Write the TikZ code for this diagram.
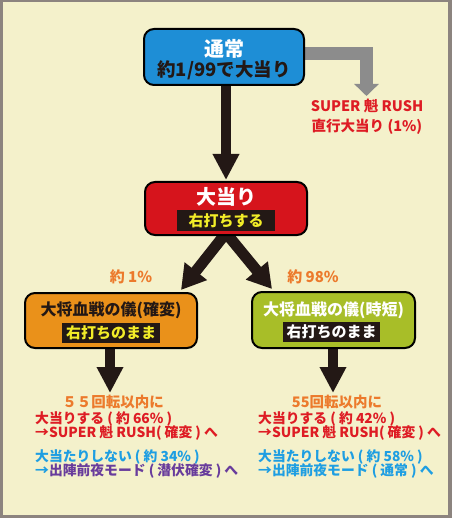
\documentclass[tikz,border=0pt]{standalone}
\usepackage{fontspec}
\setmainfont{Noto Sans CJK JP}
\usetikzlibrary{arrows.meta}
\pgfdeclarelayer{back}
\pgfdeclarelayer{arr}
\pgfsetlayers{back,arr,main}
\definecolor{bgc}{RGB}{244,241,203}
\definecolor{framec}{RGB}{140,132,127}
\definecolor{boxblue}{RGB}{30,142,214}
\definecolor{boxred}{RGB}{214,20,28}
\definecolor{boxorange}{RGB}{234,145,26}
\definecolor{boxgreen}{RGB}{168,190,40}
\definecolor{arrblack}{RGB}{35,24,21}
\definecolor{arrgray}{RGB}{140,140,140}
\definecolor{txtorange}{RGB}{236,122,44}
\definecolor{txtred}{RGB}{222,28,36}
\definecolor{txtblue}{RGB}{30,158,226}
\definecolor{txtpurple}{RGB}{104,60,156}
\definecolor{txtyellow}{RGB}{242,236,40}
\definecolor{txtdark}{RGB}{35,24,21}
\tikzset{
  flowbox/.style={draw=black, line width=2pt, rounded corners=10pt, inner sep=0pt},
  tagbox/.style={fill=arrblack, inner sep=0pt, font=\bfseries\fontsize{15}{15}\selectfont},
  bigarrow/.style={draw=arrblack, line width=10pt, -{Triangle[length=26pt,width=25pt]}},
  diagarrow/.style={draw=arrblack, line width=11pt, -{Triangle[length=24pt,width=27pt]}},
  grayarrow/.style={draw=arrgray, line width=13pt, line join=miter, -{Triangle[length=12pt,width=24pt]}},
  btxt/.style={inner sep=0pt, anchor=west, font=\bfseries\fontsize{13.8}{14}\selectfont},
  plain/.style={inner sep=0pt, font=\bfseries\fontsize{15}{15}\selectfont}
}
\begin{document}
\begin{tikzpicture}[x=1pt,y=-1pt]
\useasboundingbox (0,0) rectangle (452,518);
\begin{pgfonlayer}{back}
  \fill[framec] (0,0) rectangle (452,518);
  \fill[bgc] (2.5,2.5) rectangle (448,514.5);
\end{pgfonlayer}

% boxes
\node[flowbox, fill=boxblue, minimum width=160pt, minimum height=56pt] (tsu) at (224,57) {};
\node[inner sep=0pt, text=white, font=\bfseries\fontsize{20}{20}\selectfont] (tsuT) at (224,48.5) {通常};
\node[inner sep=0pt, text=txtdark, font=\bfseries\fontsize{18.5}{18.5}\selectfont] (tsuS) at (224,70.5) {約1/99で大当り};

\node[flowbox, fill=boxred, minimum width=162pt, minimum height=53pt] (oa) at (226,208.5) {};
\node[inner sep=0pt, text=white, font=\bfseries\fontsize{20}{20}\selectfont] (oaT) at (226,197) {大当り};
\node[tagbox, text=txtyellow, minimum width=98pt, minimum height=21pt] (oaS) at (226,220.5) {右打ちする};

\node[flowbox, fill=boxorange, minimum width=172pt, minimum height=55pt] (lb) at (111,320.5) {};
\node[inner sep=0pt, text=txtdark, font=\bfseries\fontsize{16}{16}\selectfont] (lbT) at (111,310.5) {大将血戦の儀(確変)};
\node[tagbox, text=txtyellow, minimum width=98pt, minimum height=20pt] (lbS) at (111,333) {右打ちのまま};

\node[flowbox, fill=boxgreen, minimum width=163pt, minimum height=56pt] (rb) at (333.5,320) {};
\node[inner sep=0pt, text=white, font=\bfseries\fontsize{16}{16}\selectfont] (rbT) at (333.5,310.5) {大将血戦の儀(時短)};
\node[tagbox, text=white, minimum width=97pt, minimum height=20pt] (rbS) at (331.5,332) {右打ちのまま};

% side label
\node[inner sep=0pt, text=txtred, align=center, font=\bfseries\fontsize{14.5}{20}\selectfont] (sr) at (367,117) {SUPER 魁 RUSH\\直行大当り (1\%)};
\coordinate (gtip) at (366.5,96);

% percent labels
\node[plain, text=txtorange] (p1) at (131,277) {約 1\%};
\node[plain, text=txtorange] (p98) at (313,277) {約 98\%};

% bottom texts left
\node[inner sep=0pt, text=txtorange, font=\bfseries\fontsize{14.5}{14.5}\selectfont] (l0) at (113,402) {５５回転以内に};
\node[btxt, text=txtred] (l1) at (35,419) {大当りする ( 約 66\% )};
\node[btxt, text=txtred] (l2) at (35,433) {→SUPER 魁 RUSH( 確変 ) へ};
\node[btxt, text=txtblue] (l3) at (35,457) {大当たりしない ( 約 34\% )};
\node[btxt, text=txtpurple] (l4) at (35,471) {{\color{txtblue}→}出陣前夜モード ( 潜伏確変 ) へ};
\coordinate (ltip) at (110,393);

% bottom texts right
\node[inner sep=0pt, text=txtorange, font=\bfseries\fontsize{14.5}{14.5}\selectfont] (r0) at (337,402) {55回転以内に};
\node[btxt, text=txtred] (r1) at (258,419) {大当りする ( 約 42\% )};
\node[btxt, text=txtred] (r2) at (258,433) {→SUPER 魁 RUSH( 確変 ) へ};
\node[btxt, text=txtblue] (r3) at (258,457) {大当たりしない ( 約 58\% )};
\node[btxt, text=txtblue] (r4) at (258,471) {→出陣前夜モード ( 通常 ) へ};
\coordinate (rtip) at (333,393);

% arrows
\begin{pgfonlayer}{arr}
  \draw[grayarrow] ([yshift=3.5pt]tsu.east) -| (gtip);
  \draw[bigarrow] (tsu.south -| oa.north) -- ([yshift=1pt]oa.north);
  \draw[diagarrow] ([yshift=3pt]oa.south) -- ([xshift=-17pt,yshift=2pt]lb.north east);
  \draw[diagarrow] ([yshift=3pt]oa.south) -- ([xshift=21pt,yshift=2pt]rb.north west);
  \draw[bigarrow] (lb.south -| ltip) -- (ltip);
  \draw[bigarrow] (rb.south -| rtip) -- (rtip);
\end{pgfonlayer}
\end{tikzpicture}
\end{document}
